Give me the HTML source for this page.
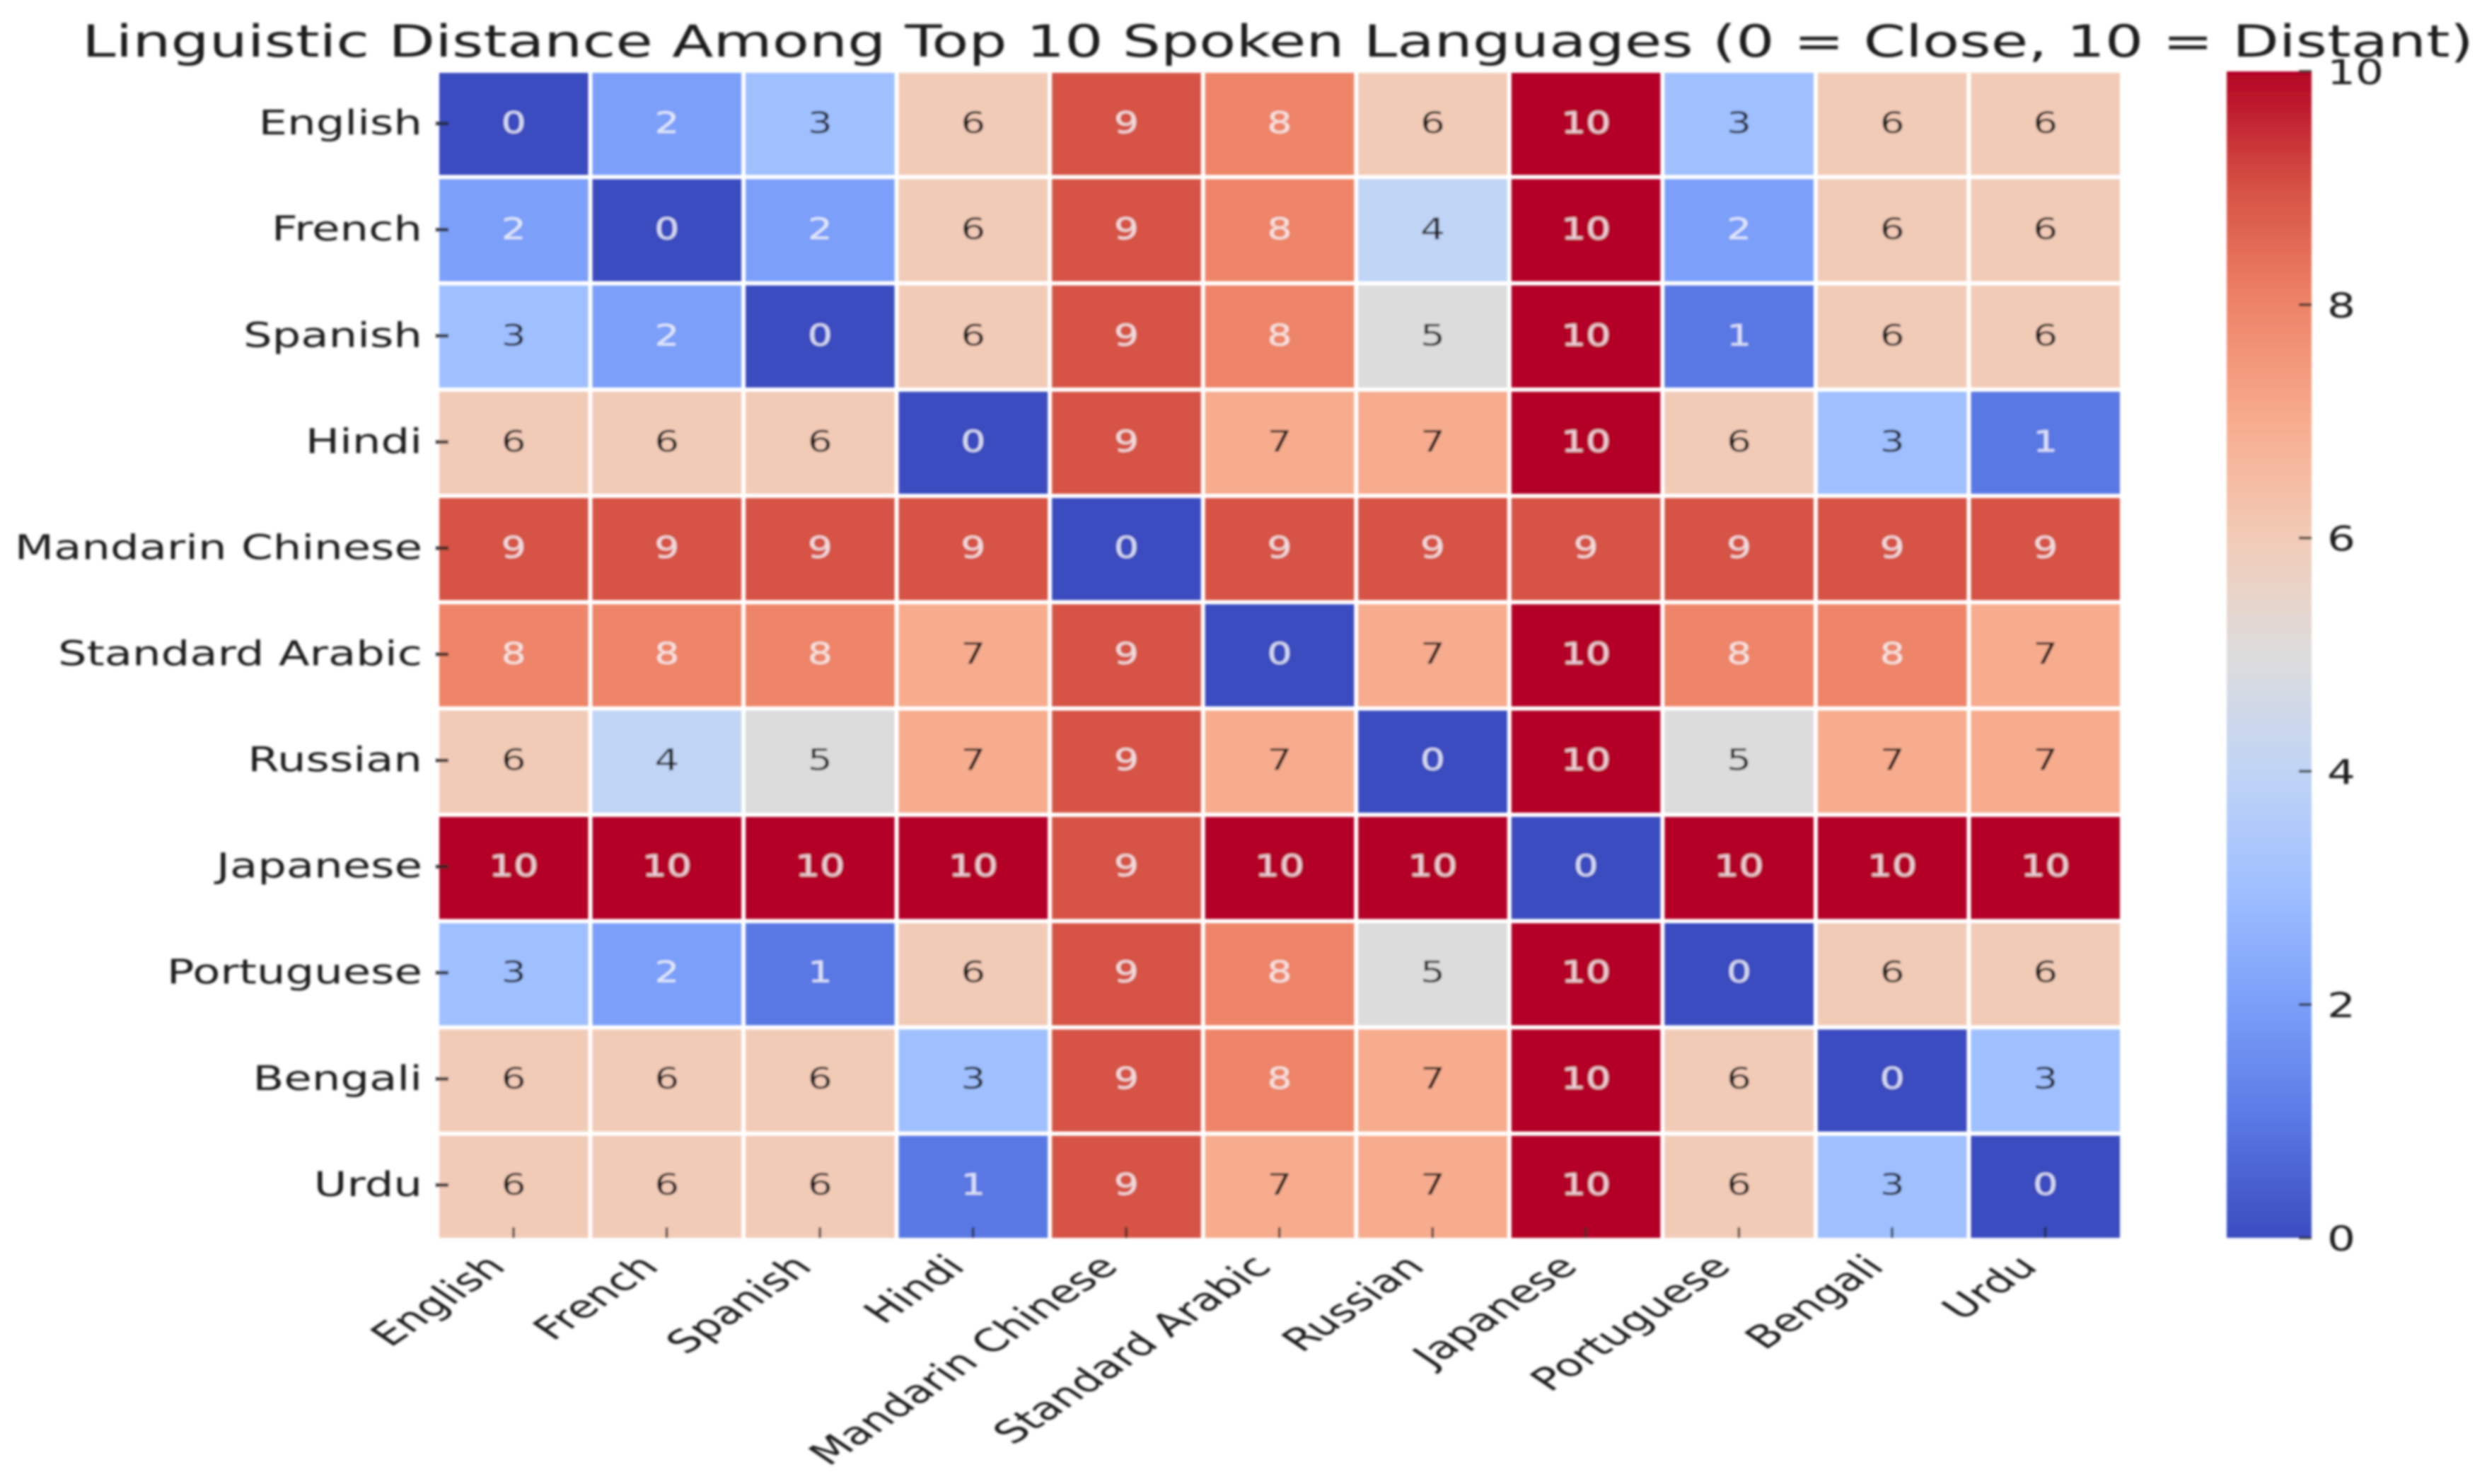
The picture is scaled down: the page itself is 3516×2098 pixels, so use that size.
<!DOCTYPE html>
<html lang="en">
<head>
<meta charset="utf-8">
<title>Linguistic Distance Among Top 10 Spoken Languages</title>
<style>
  html, body { margin: 0; padding: 0; background: #ffffff; }
  svg { display: block; font-family: "DejaVu Sans", "Liberation Sans", sans-serif; }
</style>
</head>
<body>
<svg id="chart" xmlns="http://www.w3.org/2000/svg" width="3516" height="2098" viewBox="0 0 3516 2098">
  <defs>
    <filter id="soften" x="-2%" y="-2%" width="104%" height="104%">
      <feGaussianBlur stdDeviation="1.6"></feGaussianBlur>
    </filter>
  </defs>
  <rect x="0" y="0" width="3516" height="2098" fill="#ffffff"></rect>
  <g id="root" filter="url(#soften)">
    <text x="116" y="80" font-size="62" fill="#1c1c1c" textLength="3381" lengthAdjust="spacingAndGlyphs">Linguistic Distance Among Top 10 Spoken Languages (0 = Close, 10 = Distant)</text>
  </g>
</svg>
<script>
const categories = ['English', 'French', 'Spanish', 'Hindi', 'Mandarin Chinese', 'Standard Arabic', 'Russian', 'Japanese', 'Portuguese', 'Bengali', 'Urdu'];
const englishRow = [0, 2, 3, 6, 9, 8, 6, 10, 3, 6, 6];
const frenchRow = [2, 0, 2, 6, 9, 8, 4, 10, 2, 6, 6];
const spanishRow = [3, 2, 0, 6, 9, 8, 5, 10, 1, 6, 6];
const hindiRow = [6, 6, 6, 0, 9, 7, 7, 10, 6, 3, 1];
const mandarinRow = [9, 9, 9, 9, 0, 9, 9, 9, 9, 9, 9];
const arabicRow = [8, 8, 8, 7, 9, 0, 7, 10, 8, 8, 7];
const russianRow = [6, 4, 5, 7, 9, 7, 0, 10, 5, 7, 7];
const japaneseRow = [10, 10, 10, 10, 9, 10, 10, 0, 10, 10, 10];
const portugueseRow = [3, 2, 1, 6, 9, 8, 5, 10, 0, 6, 6];
const bengaliRow = [6, 6, 6, 3, 9, 8, 7, 10, 6, 0, 3];
const urduRow = [6, 6, 6, 1, 9, 7, 7, 10, 6, 3, 0];
const distanceMatrix = [englishRow, frenchRow, spanishRow, hindiRow, mandarinRow, arabicRow, russianRow, japaneseRow, portugueseRow, bengaliRow, urduRow];
const colorbarTicks = [0, 2, 4, 6, 8, 10];
const colorDomain = [0, 10];

const SVG_NS = 'http://www.w3.org/2000/svg';
const root = document.getElementById('root');
const defs = document.querySelector('#chart defs');

const plot = { left: 618, right: 3000, top: 100, bottom: 1753, gap: 3 };
const bar = { left: 3148, right: 3268, top: 101, bottom: 1750 };
const textStretch = 1.31;
const labelStretch = 1.335;

const coolwarmStops = ['#3b4cc0', '#5a78e4', '#7b9ff9', '#9fbfff', '#c0d4f5', '#dddcdc', '#f2cbb7', '#f7ac8e', '#ee8468', '#d65244', '#b40426'];

function colorScale(value) {
  const t = (value - colorDomain[0]) / (colorDomain[1] - colorDomain[0]);
  const clamped = Math.max(0, Math.min(1, t)) * (coolwarmStops.length - 1);
  const low = Math.floor(clamped);
  const high = Math.min(low + 1, coolwarmStops.length - 1);
  const mix = clamped - low;
  const channel = function (hex, start) { return parseInt(hex.substr(start, 2), 16); };
  const parts = [1, 3, 5].map(function (start) {
    return Math.round(channel(coolwarmStops[low], start) * (1 - mix) + channel(coolwarmStops[high], start) * mix);
  });
  return 'rgb(' + parts.join(',') + ')';
}
function annotationColor(value) {
  const t = (value - colorDomain[0]) / (colorDomain[1] - colorDomain[0]);
  return (t <= 0.25 || t >= 0.75) ? 'rgba(244,244,248,0.85)' : '#1c1c1c';
}
function xBand(col) { return plot.left + (plot.right - plot.left) * col / categories.length; }
function yBand(row) { return plot.top + (plot.bottom - plot.top) * row / categories.length; }
function xCenter(col) { return xBand(col + 0.5); }
function yCenter(row) { return yBand(row + 0.5); }
function textRowY(row) { return yCenter(row) - row * 0.2; }
function barY(value) {
  return bar.bottom - (value - colorDomain[0]) / (colorDomain[1] - colorDomain[0]) * (bar.bottom - bar.top);
}
function make(tag, parent) {
  const el = document.createElementNS(SVG_NS, tag);
  parent.appendChild(el);
  return el;
}
function slug(text) { return text.toLowerCase().replace(/\s+/g, '-'); }

// Heatmap cells and annotations
distanceMatrix.forEach(function (rowValues, r) {
  rowValues.forEach(function (value, c) {
    const cell = make('rect', root);
    
    
    cell.setAttribute('x', xBand(c) + plot.gap);
    cell.setAttribute('y', yBand(r) + plot.gap);
    cell.setAttribute('width', xBand(c + 1) - xBand(c) - 2 * plot.gap);
    cell.setAttribute('height', yBand(r + 1) - yBand(r) - 2 * plot.gap);
    cell.setAttribute('fill', colorScale(value));

    const note = make('text', root);
    
    
    note.setAttribute('transform', 'translate(' + xCenter(c) + ',' + (textRowY(r) + 13) + ') scale(' + textStretch + ',1)');
    note.setAttribute('text-anchor', 'middle');
    note.setAttribute('font-size', '42');
    note.setAttribute('fill', annotationColor(value));
    note.textContent = String(value);
  });
});

// Axis ticks and labels
categories.forEach(function (name, i) {
  const yTick = make('rect', root);
  
  
  yTick.setAttribute('x', plot.left - 2);
  yTick.setAttribute('y', textRowY(i) - 3);
  yTick.setAttribute('width', 18);
  yTick.setAttribute('height', 5);
  yTick.setAttribute('fill', '#262626');
  yTick.setAttribute('fill-opacity', '0.9');

  const yLabel = make('text', root);
  
  
  yLabel.setAttribute('transform', 'translate(597,' + (textRowY(i) + 15) + ') scale(' + labelStretch + ',1)');
  yLabel.setAttribute('text-anchor', 'end');
  yLabel.setAttribute('font-size', '48');
  yLabel.setAttribute('fill', '#1c1c1c');
  yLabel.textContent = name;

  const xTick = make('rect', root);
  
  
  xTick.setAttribute('x', xCenter(i) - 2);
  xTick.setAttribute('y', plot.bottom - 18);
  xTick.setAttribute('width', 3.5);
  xTick.setAttribute('height', 15);
  xTick.setAttribute('fill', '#262626');
  xTick.setAttribute('fill-opacity', '0.85');

  const xLabel = make('text', root);
  
  
  xLabel.setAttribute('transform', 'translate(' + (xCenter(i) - 9) + ',1793) scale(1.35,0.92) rotate(-45)');
  xLabel.setAttribute('text-anchor', 'end');
  xLabel.setAttribute('font-size', '48');
  xLabel.setAttribute('fill', '#1c1c1c');
  xLabel.textContent = name;
});

// Colorbar
const gradient = make('linearGradient', defs);
gradient.setAttribute('id', 'colorbar-gradient');
gradient.setAttribute('x1', '0');
gradient.setAttribute('y1', '1');
gradient.setAttribute('x2', '0');
gradient.setAttribute('y2', '0');
coolwarmStops.forEach(function (_, i) {
  const stop = make('stop', gradient);
  const f = i / (coolwarmStops.length - 1);
  stop.setAttribute('offset', f);
  stop.setAttribute('stop-color', colorScale(colorDomain[0] + f * (colorDomain[1] - colorDomain[0])));
});

const colorbar = make('rect', root);


colorbar.setAttribute('x', bar.left);
colorbar.setAttribute('y', bar.top);
colorbar.setAttribute('width', bar.right - bar.left);
colorbar.setAttribute('height', bar.bottom - bar.top);
colorbar.setAttribute('fill', 'url(#colorbar-gradient)');

colorbarTicks.forEach(function (value) {
  const tick = make('rect', root);
  
  
  tick.setAttribute('x', bar.right - 18);
  tick.setAttribute('y', barY(value) - 2);
  tick.setAttribute('width', 18);
  tick.setAttribute('height', 4);
  tick.setAttribute('fill', '#262626');
  tick.setAttribute('fill-opacity', '0.8');

  const label = make('text', root);
  
  
  label.setAttribute('transform', 'translate(3290,' + (barY(value) + 18) + ') scale(' + textStretch + ',1)');
  label.setAttribute('font-size', '48');
  label.setAttribute('fill', '#1c1c1c');
  label.textContent = String(value);
});
</script>
</body>
</html>
